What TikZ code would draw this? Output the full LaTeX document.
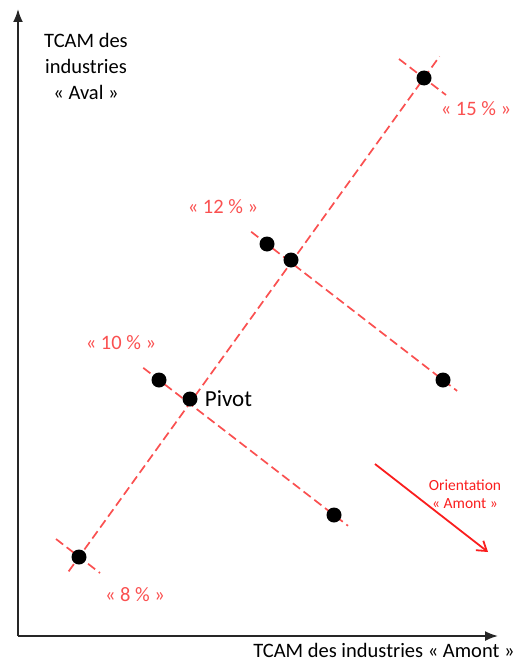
\documentclass[tikz,border=0pt]{standalone}
\usepackage{fontspec}
\setmainfont{Carlito}
\usepackage{tikz}
\usetikzlibrary{arrows.meta,positioning,calc,backgrounds}
\usepackage{xcolor}
\definecolor{trendred}{RGB}{250,80,80}
\definecolor{arrowred}{RGB}{250,30,30}

\begin{document}
\begin{tikzpicture}[x=1pt, y=-1pt,
    dot/.style={circle, fill=black, inner sep=0pt, minimum size=15pt},
    trend/.style={draw=trendred, dash pattern=on 9pt off 4.5pt, line width=1.7pt},
    pct/.style={text=trendred, font=\fontsize{20.5}{24}\selectfont},
    axis/.style={line width=1.8pt, draw=black!85, -{Latex[length=13pt,width=10pt]}}]
            \useasboundingbox (0,0) rectangle (520,661);
            % Axes
            \coordinate (orig) at (18,636);
            \coordinate (ytip) at (18,9);
            \coordinate (xtip) at (498,636);
            \draw[axis] (orig) -- (ytip);
            \draw[axis] (orig) -- (xtip);
            
            \node[align=center, font=\fontsize{20.5}{26}\selectfont] (ylab) at (86,66) {TCAM des\\industries\\« Aval »};
            \node[font=\fontsize{20.5}{26}\selectfont] (xlab) at (384,650) {TCAM des industries « Amont »};
            
            % Points
            \node[dot] (p15) at (424,78) {};
            \node[dot] (p12a) at (267,244) {};
            \node[dot] (p12) at (291,260) {};
            \node[dot] (p12b) at (443,380) {};
            \node[dot] (p10a) at (159,380) {};
            \node[dot] (pivot) at (190,399) {};
            \node[dot] (p10b) at (334,515) {};
            \node[dot] (p8) at (79,557) {};
            
            % Dashed lines
            \begin{scope}[on background layer]
            \draw[trend] ($(p8)!-0.03!(p15)$) -- ($(p15)!-0.045!(p8)$);
            \draw[trend] ($(p12a)!-0.09!(p12b)$) -- ($(p12b)!-0.08!(p12a)$);
            \draw[trend] ($(p10a)!-0.09!(p10b)$) -- ($(p10b)!-0.08!(p10a)$);
            \draw[trend] ($(p15)+(-25,-19)$) -- ($(p15)+(22,17)$);
            \draw[trend] ($(p8)+(-23,-18)$) -- ($(p8)+(21,16)$);
            \end{scope}
            
            % Labels
            \node[pct] (l15) at (476,109) {« 15 \% »};
            \node[pct] (l12) at (223,207) {« 12 \% »};
            \node[pct] (l10) at (121,343) {« 10 \% »};
            \node[pct] (l8) at (135,595) {« 8 \% »};
            \node[right=7pt of pivot, inner sep=0pt, font=\fontsize{23}{26}\selectfont] (pivlab) {Pivot};
            
            % Orientation
            \coordinate (ostart) at (375,464);
            \coordinate (oend) at (488,552);
            \draw[arrowred, line width=1.8pt, -{Straight Barb[length=9pt,width=12pt]}] (ostart) -- (oend);
            \node[align=center, text=arrowred, font=\fontsize{15.5}{18}\selectfont] (olab) at (465,494) {Orientation\\« Amont »};
        \end{tikzpicture}
\end{document}
